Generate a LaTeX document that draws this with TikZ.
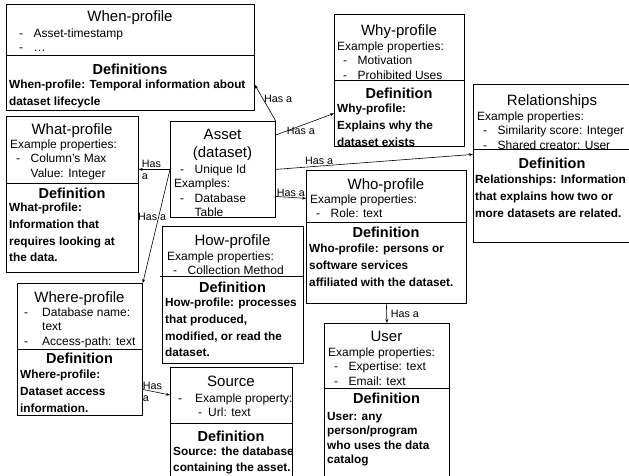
\documentclass[tikz,border=0pt]{standalone}
\usepackage{fontspec}
\setmainfont{Liberation Sans}
\usetikzlibrary{arrows.meta}
\tikzset{
  box/.style={draw, line width=0.8pt, anchor=north west, inner sep=0pt},
  ttl/.style={font=\fontsize{15}{18}\selectfont, anchor=base, inner sep=0pt},
  props/.style={font=\fontsize{12}{14.5}\selectfont, align=left, anchor=north west, inner sep=0pt},
  defhead/.style={font=\bfseries\fontsize{14.5}{17}\selectfont, anchor=base, inner sep=0pt},
  deftext/.style={font=\bfseries\fontsize{11.8}{16.8}\selectfont, align=left, anchor=north west, inner sep=0pt},
  hasa/.style={font=\fontsize{10.7}{12}\selectfont, inner sep=1pt, align=left},
  link/.style={-{Stealth[length=4pt,width=3pt]}, line width=0.6pt},
  split/.style={line width=0.8pt}
}
\newcommand{\pitem}[2][14.5pt]{\hspace*{6pt}\makebox[#1][l]{-}#2}

\begin{document}
\begin{tikzpicture}[x=1pt, y=-1pt]
\useasboundingbox (0,0) rectangle (629,475);
\clip (0,0) rectangle (629,475);

% When-profile
\node[box, minimum width=248pt, minimum height=106pt] (when) at (6,4) {};
\node[ttl] (when-t) at (130,21) {When-profile};
\node[props] (when-p) at (13,27) {\strut\pitem{Asset-timestamp}\\ \pitem{\ldots}};
\draw[split] (when.west |- 0,55) -- (when.east |- 0,55);
\node[defhead] (when-h) at (130,74) {Definitions};
\node[deftext] (when-d) at (9,76.6) {\strut When-profile: Temporal information about\\dataset lifecycle};

% Why-profile
\node[box, minimum width=130pt, minimum height=132pt] (why) at (334,14) {};
\node[ttl] (why-t) at (399,35) {Why-profile};
\node[props] (why-p) at (337,40) {\strut Example properties:\\ \pitem{Motivation}\\ \pitem{Prohibited Uses}};
\draw[split] (why.west |- 0,80) -- (why.east |- 0,80);
\node[defhead] (why-h) at (399,98) {Definition};
\node[deftext] (why-d) at (337,100.6) {\strut Why-profile:\\Explains why the\\dataset exists};

% Relationships
\node[box, minimum width=170pt, minimum height=158pt] (rel) at (473,84) {};
\node[ttl] (rel-t) at (552,105) {Relationships};
\node[props] (rel-p) at (477,110) {\strut Example properties:\\ \pitem{Similarity score: Integer}\\ \pitem{Shared creator: User}};
\draw[split] (rel.west |- 0,149) -- (rel.east |- 0,149);
\node[defhead] (rel-h) at (552,168) {Definition};
\node[deftext] (rel-d) at (475,171.6) {\strut Relationships: Information\\that explains how two or\\more datasets are related.};

% What-profile
\node[box, minimum width=132pt, minimum height=156pt] (what) at (6,116) {};
\node[ttl] (what-t) at (72,134) {What-profile};
\node[props] (what-p) at (10,138) {\strut Example properties:\\ \pitem{Column's Max}\\ \hspace*{20.5pt}Value: Integer};
\draw[split] (what.west |- 0,183) -- (what.east |- 0,183);
\node[defhead] (what-h) at (72,198) {Definition};
\node[deftext] (what-d) at (9,199.6) {\strut What-profile:\\Information that\\requires looking at\\the data.};

% Asset
\node[box, minimum width=105pt, minimum height=96pt] (asset) at (170,121) {};
\node[ttl, align=center, anchor=north] (asset-t) at (222.5,126.4) {\strut Asset\\(dataset)};
\node[props] (asset-p) at (174,163) {\strut\pitem{Unique Id}\\Examples:\\ \pitem{Database}\\ \hspace*{20.5pt}Table};

% Who-profile
\node[box, minimum width=160pt, minimum height=133pt] (who) at (306,170) {};
\node[ttl] (who-t) at (386,189) {Who-profile};
\node[props] (who-p) at (310,193) {\strut Example properties:\\ \pitem{Role: text}};
\draw[split] (who.west |- 0,222) -- (who.east |- 0,222);
\node[defhead] (who-h) at (386,237) {Definition};
\node[deftext] (who-d) at (309,240.6) {\strut Who-profile: persons or\\software services\\affiliated with the dataset.};

% How-profile
\node[box, minimum width=141pt, minimum height=137pt] (how) at (162,226) {};
\node[ttl] (how-t) at (232.5,245) {How-profile};
\node[props] (how-p) at (167,250) {\strut Example properties:\\ \pitem{Collection Method}};
\draw[split] ([xshift=-2pt]how.west |- 0,276) -- (how.east |- 0,276);
\node[defhead] (how-h) at (232.5,292) {Definition};
\node[deftext] (how-d) at (165,294.6) {\strut How-profile: processes\\that produced,\\modified, or read the\\dataset.};

% Where-profile
\node[box, minimum width=125pt, minimum height=132pt] (where) at (17,283) {};
\node[ttl] (where-t) at (79.5,302) {Where-profile};
\node[props] (where-p) at (18,306) {\strut\pitem[18pt]{Database name:}\\ \hspace*{24pt}text\\ \pitem[18pt]{Access-path: text}};
\draw[split] (where.west |- 0,349) -- (where.east |- 0,349);
\node[defhead] (where-h) at (79.5,363) {Definition};
\node[deftext] (where-d) at (20,366.6) {\strut Where-profile:\\Dataset access\\information.};

% Source
\node[box, minimum width=122pt, minimum height=115pt] (src) at (170,367) {};
\node[ttl] (src-t) at (231,386) {Source};
\node[props] (src-p) at (172,392) {\strut\pitem[17pt]{Example property:}\\ \hspace*{26pt}\makebox[10pt][l]{-}Url: text};
\draw[split] (src.west |- 0,423) -- (src.east |- 0,423);
\node[defhead] (src-h) at (231,441) {Definition};
\node[deftext, font=\bfseries\fontsize{11.8}{16}\selectfont] (src-d) at (173,443.6) {\strut Source: the database\\containing the asset.};

% User
\node[box, minimum width=125pt, minimum height=160pt] (user) at (324,323) {};
\node[ttl] (user-t) at (386.5,341) {User};
\node[props] (user-p) at (328,346) {\strut Example properties:\\ \pitem{Expertise: text}\\ \pitem{Email: text}};
\draw[split] (user.west |- 0,388) -- (user.east |- 0,388);
\node[defhead] (user-h) at (386.5,403) {Definition};
\node[deftext, font=\bfseries\fontsize{11.8}{14.5}\selectfont] (user-d) at (327,410) {\strut User: any\\person/program\\who uses the data\\catalog};

% Has a links
\draw[link] (asset.north east) -- node[hasa, pos=0.62, right] (l-when) {Has a} ([yshift=26pt]when.south east);
\draw[link] ([yshift=-14pt]asset.north east) -- node[hasa, pos=0.43, below] (l-why) {Has a} ([yshift=-33pt]why.west);
\draw[link] (asset.east) -- node[hasa, pos=0.22, above] (l-rel) {Has a} ([yshift=9pt]rel.west);
\draw[link] ([yshift=-27pt]asset.east) -- node[hasa, midway, above] (l-who) {Has a} ([yshift=38.5pt]who.west);
\draw[link] (asset.west) -- node[hasa, midway, xshift=-3pt] (l-what) {Has\\a} ([yshift=25pt]what.east);
\draw[link] (asset.west) -- node[hasa, pos=0.42, xshift=-6.5pt] (l-where) {Has a} (where.north east);
\draw[link] (who.south) -- node[hasa, midway, right=3pt] (l-user) {Has a} (user.north);
\draw[link] ([yshift=-40pt]where.east) -- node[hasa, midway, xshift=-4pt] (l-src) {Has\\a} ([yshift=-28pt]src.north west);
\end{tikzpicture}
\end{document}
